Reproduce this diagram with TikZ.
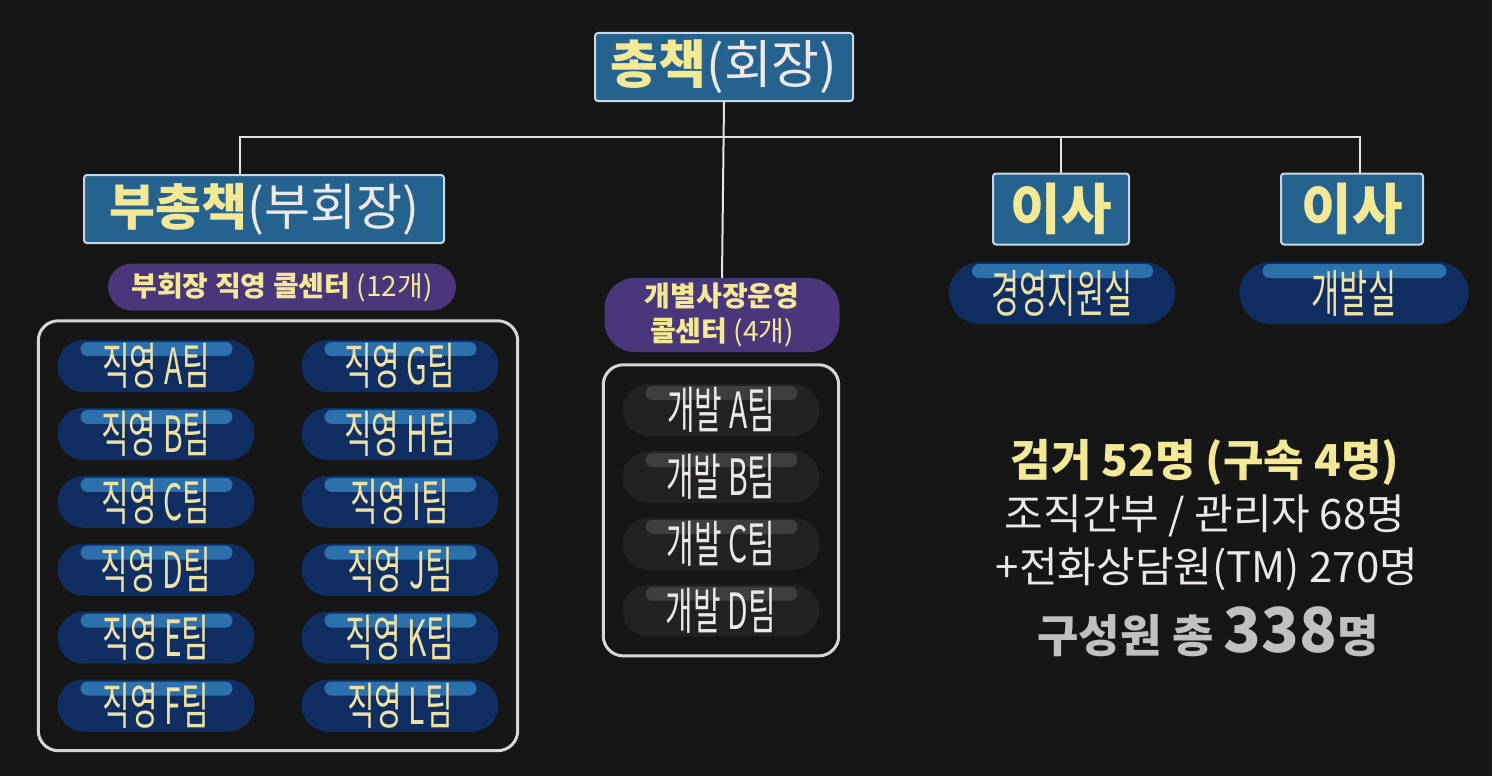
\documentclass[tikz,border=0pt]{standalone}
\usepackage{fontspec}
\setmainfont{Noto Sans CJK KR}
\newfontfamily\condfont[FakeStretch=0.6]{Noto Sans CJK KR}
\usepackage{tikz}
\usetikzlibrary{positioning,fit,calc}
\definecolor{bgdark}{RGB}{22,22,22}
\definecolor{rankblue}{RGB}{38,98,142}
\definecolor{rankedge}{RGB}{196,216,232}
\definecolor{titleyellow}{RGB}{242,232,150}
\definecolor{paleyellow}{RGB}{236,226,168}
\definecolor{hallpurple}{RGB}{74,54,122}
\definecolor{teamnavy}{RGB}{16,46,98}
\definecolor{teamshine}{RGB}{44,112,172}
\definecolor{devgray}{RGB}{34,34,36}
\definecolor{devshine}{RGB}{62,62,64}
\definecolor{framegray}{RGB}{214,214,218}
\definecolor{linkwhite}{RGB}{228,228,228}
\definecolor{softwhite}{RGB}{236,232,232}
\definecolor{totalgray}{RGB}{192,192,192}

\begin{document}
\begin{tikzpicture}[
  x=1pt, y=1pt,
  node distance=15.5pt and 47pt,
  rank/.style={draw=rankedge, line width=2pt, rounded corners=3pt, fill=rankblue, inner sep=0pt, minimum height=68pt, text=titleyellow},
  hall/.style={fill=hallpurple, rounded corners=24pt, inner sep=0pt, align=center, text=titleyellow, font=\bfseries\fontsize{28}{35}\selectfont},
  teampill/.style={fill=teamnavy, rounded corners=26pt, inner sep=0pt, minimum width=197pt, minimum height=52pt, text=paleyellow, font=\condfont\fontsize{50}{50}\selectfont,
    path picture={\fill[teamshine, rounded corners=7pt] ($(path picture bounding box.north west)+(23pt,-2pt)$) rectangle ($(path picture bounding box.north east)+(-22pt,-16pt)$);}},
  devpill/.style={teampill, fill=devgray, text=softwhite,
    path picture={\fill[devshine, rounded corners=7pt] ($(path picture bounding box.north west)+(23pt,-2pt)$) rectangle ($(path picture bounding box.north east)+(-22pt,-16pt)$);}},
  deptpill/.style={teampill, minimum width=226pt, minimum height=62pt, rounded corners=31pt, font=\condfont\fontsize{51}{51}\selectfont},
  frame/.style={draw=framegray, line width=3pt, rounded corners=20pt, inner sep=19pt},
  link/.style={draw=linkwhite, line width=2pt},
  stat/.style={inner sep=0pt, anchor=base, font=\fontsize{42}{42}\selectfont}
]
\fill[bgdark] (0,0) rectangle (1492,-776);

% top of the organisation
\node[rank, minimum width=258pt, font=\fontsize{52}{52}\selectfont] (boss) at (724,-67) {{\bfseries 총책}\textcolor{softwhite}{(회장)}};
\node[rank, minimum width=360pt, font=\fontsize{50}{50}\selectfont] (vice) at (264,-209) {{\bfseries 부총책}\textcolor{softwhite}{(부회장)}};
\node[rank, minimum width=136pt, minimum height=71pt, font=\bfseries\fontsize{55}{55}\selectfont] (dirA) at (1061,-209) {이사};
\node[rank, minimum width=142pt, minimum height=71pt, font=\bfseries\fontsize{55}{55}\selectfont] (dirB) at (1352,-209) {이사};

% call centers
\node[hall, minimum width=348pt, minimum height=47pt] (viceHall) at (282,-287) {부회장 직영 콜센터 {\mdseries(12개)}};
\node[hall, minimum width=235pt, minimum height=74pt, rounded corners=30pt] (ownHall) at (722,-315) {개별사장운영\\콜센터 {\mdseries(4개)}};

\node[deptpill] (mgmt) at (1062,-293) {경영지원실};
\node[deptpill, minimum width=229pt] (devRoom) at (1354,-293) {개발실};

% direct teams
\node[teampill] (tA) at (156,-366) {직영 A팀};
\node[teampill, below=of tA] (tB) {직영 B팀};
\node[teampill, below=of tB] (tC) {직영 C팀};
\node[teampill, below=of tC] (tD) {직영 D팀};
\node[teampill, below=of tD] (tE) {직영 E팀};
\node[teampill, below=of tE] (tF) {직영 F팀};
\node[teampill] (tG) at (400,-366) {직영 G팀};
\node[teampill, below=of tG] (tH) {직영 H팀};
\node[teampill, below=of tH] (tI) {직영 I팀};
\node[teampill, below=of tI] (tJ) {직영 J팀};
\node[teampill, below=of tJ] (tK) {직영 K팀};
\node[teampill, below=of tK] (tL) {직영 L팀};
\node[frame, fit=(tA)(tF)(tG)(tL)] (viceFrame) {};

% owner-run teams
\node[devpill] (dA) at (721,-410) {개발 A팀};
\node[devpill, below=14.5pt of dA] (dB) {개발 B팀};
\node[devpill, below=14.5pt of dB] (dC) {개발 C팀};
\node[devpill, below=14.5pt of dC] (dD) {개발 D팀};
\node[frame, fit=(dA)(dD)] (ownFrame) {};

% numbers
\node[stat, text=titleyellow, font=\bfseries\fontsize{44}{44}\selectfont] (arrest) at (1205,-476) {검거 52명 (구속 4명)};
\node[stat, text=softwhite] (cadre) at (1205,-529) {조직간부 / 관리자 68명};
\node[stat, text=softwhite] (callers) at (1207,-582) {+전화상담원(TM) 270명};
\node[stat, text=totalgray, font=\bfseries\fontsize{45}{45}\selectfont] (total) at (1208,-652) {구성원 총 {\fontsize{62}{62}\selectfont 338}명};

% connectors
\coordinate (barL) at (240,-137);
\coordinate (barR) at (1360,-137);
\draw[link] (boss.south) -- (ownHall.north);
\draw[link] (barL |- vice.north) -- (barL) -- (barR) -- (barR |- dirB.north);
\draw[link] (dirA.north) -- (dirA.north |- barL);
\end{tikzpicture}
\end{document}
